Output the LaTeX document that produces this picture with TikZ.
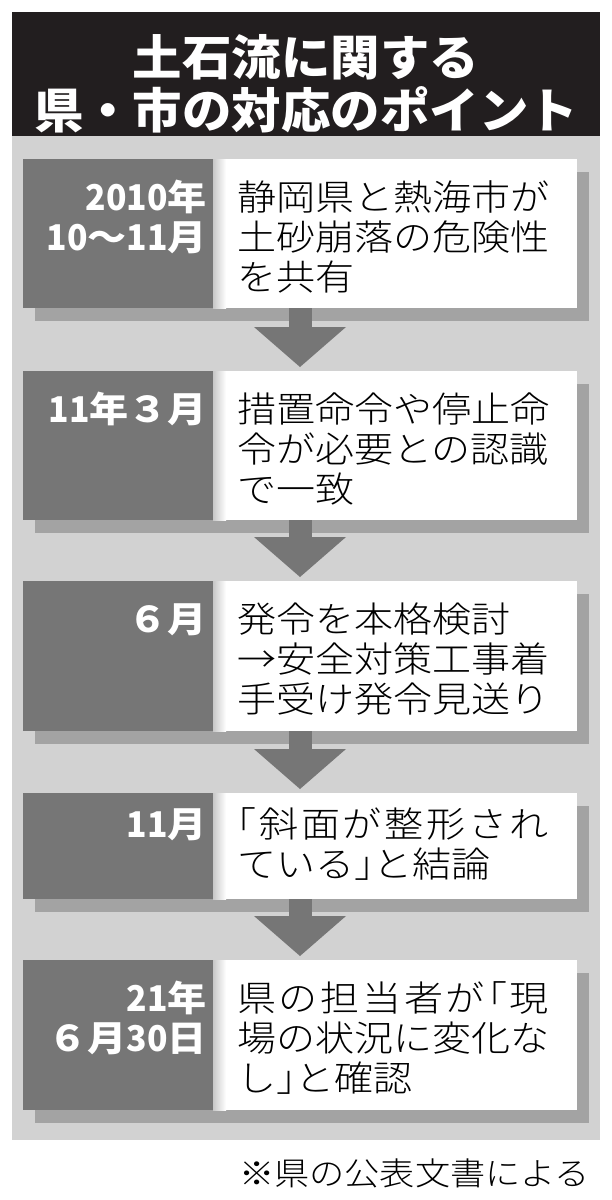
\documentclass[tikz,border=0pt]{standalone}
\usepackage{fontspec}
\usetikzlibrary{arrows.meta,shadows}
\newfontfamily\jpbody{Noto Sans CJK JP Light}[FakeStretch=1.1]
\newfontfamily\jphalf{Noto Sans CJK JP Light}[FakeStretch=1.1, RawFeature=+halt]
\newfontfamily\jplabel{Noto Sans CJK JP}[FakeStretch=1.1]
\newfontfamily\jpdigit{Noto Sans CJK JP}[FakeStretch=0.95]
\newfontfamily\jptitle{Noto Sans CJK JP}[FakeStretch=1.03]
\newcommand\rowstrut{\rule{0pt}{33pt}}
\newcommand\dg[1]{{\jpdigit\bfseries #1}}
\newcommand\hb[1]{{\jphalf #1}}
\newcommand\jrow[1]{\makebox[312pt][s]{#1}}
\definecolor{titlec}{HTML}{221E1F}
\definecolor{panelc}{HTML}{D2D2D2}
\definecolor{darkc}{HTML}{767676}
\definecolor{shadowc}{HTML}{A3A3A3}
\definecolor{edgec}{HTML}{C8C8C8}
\begin{document}
\begin{tikzpicture}[x=1pt,y=-1pt,
  every node/.style={inner sep=0pt, outer sep=0pt},
  titlebar/.style={fill=titlec, anchor=north west, minimum width=588pt, minimum height=124pt},
  titletext/.style={font={\jptitle\bfseries\fontsize{48}{53}\selectfont}, text=white, anchor=base},
  panelbox/.style={fill=panelc, anchor=north west, minimum width=588pt, minimum height=1004pt},
  eventbox/.style={fill=white, anchor=north west, minimum width=554pt,
    drop shadow={shadow xshift=12pt, shadow yshift=-13pt, fill=shadowc, opacity=1}},
  datebox/.style={fill=darkc, anchor=north west, minimum width=190pt},
  datetext/.style={font={\jplabel\bfseries\fontsize{35.5}{40}\selectfont}, text=white, align=right, anchor=north east},
  bodytext/.style={font={\jpbody\fontsize{35.5}{40}\selectfont}, text=black, align=left, anchor=north west},
  notetext/.style={font={\jpbody\fontsize{32}{36}\selectfont}, text=black, anchor=base east},
  flowarrow/.style={draw=darkc, line width=23pt, -{Triangle[width=92pt,length=40pt,line width=0pt]}, shorten >=4pt}
]
\useasboundingbox (0,0) rectangle (612,1200);
\fill[white] (0,0) rectangle (612,1200);

% title
\node[titlebar] (title) at (12,12) {};
\node[titletext] (title1) at (306,75) {土石流に関する};
\node[titletext] (title2) at (306,128) {県・市の対応のポイント};

% panel
\node[panelbox] (panel) at (12,136) {};

% box 1
\node[eventbox, minimum height=149pt] (b1) at (23,159) {};
\node[datebox, minimum height=149pt] (d1) at (b1.north west) {};
\shade[left color=edgec, right color=white] (d1.north east) rectangle ([xshift=13pt]d1.south east);
\node[datetext] (l1) at (207,177) {\rowstrut \dg{2010}年\\\dg{10}〜\dg{11}月};
\node[bodytext] (t1) at (237,177) {\rowstrut 静岡県と熱海市が\\土砂崩落の危険性\\を共有};

% box 2
\node[eventbox, minimum height=149pt] (b2) at (23,371) {};
\node[datebox, minimum height=149pt] (d2) at (b2.north west) {};
\shade[left color=edgec, right color=white] (d2.north east) rectangle ([xshift=13pt]d2.south east);
\node[datetext] (l2) at (207,389) {\rowstrut \dg{11}年３月};
\node[bodytext] (t2) at (237,389) {\rowstrut 措置命令や停止命\\令が必要との認識\\で一致};

% box 3
\node[eventbox, minimum height=150pt] (b3) at (23,581) {};
\node[datebox, minimum height=150pt] (d3) at (b3.north west) {};
\shade[left color=edgec, right color=white] (d3.north east) rectangle ([xshift=13pt]d3.south east);
\node[datetext] (l3) at (207,599) {\rowstrut ６月};
\node[bodytext] (t3) at (237,599) {\rowstrut 発令を本格検討\\→安全対策工事着\\手受け発令見送り};

% box 4
\node[eventbox, minimum height=106pt] (b4) at (23,793) {};
\node[datebox, minimum height=106pt] (d4) at (b4.north west) {};
\shade[left color=edgec, right color=white] (d4.north east) rectangle ([xshift=13pt]d4.south east);
\node[datetext] (l4) at (207,804) {\rowstrut \dg{11}月};
\node[bodytext] (t4) at (237,804) {\rowstrut \jrow{\hb{「}\hfil 斜\hfil 面\hfil が\hfil 整\hfil 形\hfil さ\hfil れ}\\ている\hb{」}と結論};

% box 5
\node[eventbox, minimum height=150pt] (b5) at (23,960) {};
\node[datebox, minimum height=150pt] (d5) at (b5.north west) {};
\shade[left color=edgec, right color=white] (d5.north east) rectangle ([xshift=13pt]d5.south east);
\node[datetext] (l5) at (207,978) {\rowstrut \dg{21}年\\６月\dg{30}日};
\node[bodytext] (t5) at (237,978) {\rowstrut \jrow{県\hfil の\hfil 担\hfil 当\hfil 者\hfil が\hfil\hb{「}\hfil 現}\\場の状況に変化な\\し\hb{」}と確認};

% arrows
\draw[flowarrow] (b1.south) -- (b2.north);
\draw[flowarrow] (b2.south) -- (b3.north);
\draw[flowarrow] (b3.south) -- (b4.north);
\draw[flowarrow] (b4.south) -- (b5.north);

% note
\node[notetext] (note) at (590,1185) {※県の公表文書による};
\end{tikzpicture}
\end{document}
